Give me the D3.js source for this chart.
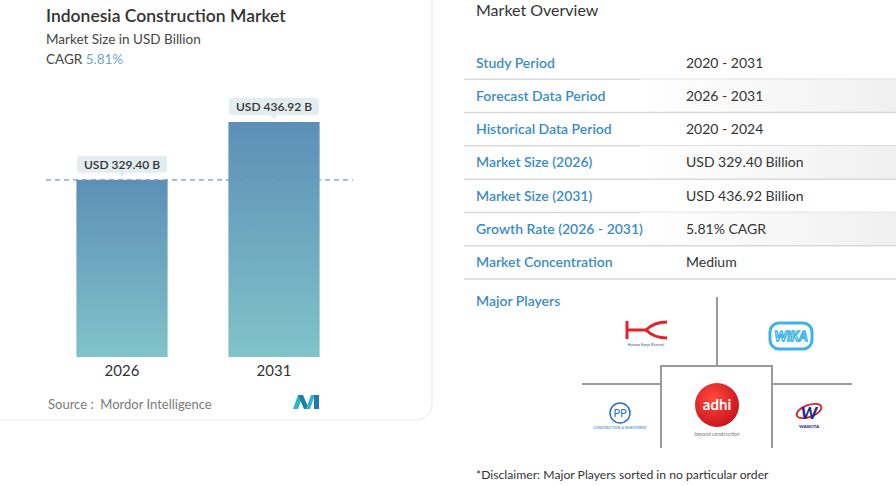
<!DOCTYPE html>
<html>
<head>
<meta charset="utf-8">
<script src="https://cdn.jsdelivr.net/npm/d3@7"></script>
<style>
  body { margin: 0; background: #fff; }
  svg { display: block; font-family: Lato, "Noto Sans", sans-serif; }
</style>
</head>
<body>
<div id="chart"></div>
<script>
// chart data
var years = ["2026", "2031"];
var marketSize = [329.40, 436.92];
var sizeLabels = ["USD 329.40 B", "USD 436.92 B"];
var cagrText = "5.81%";

// overview table
var overviewLabels = ["Study Period", "Forecast Data Period", "Historical Data Period",
  "Market Size (2026)", "Market Size (2031)", "Growth Rate (2026 - 2031)", "Market Concentration"];
var overviewValues = ["2020 - 2031", "2026 - 2031", "2020 - 2024",
  "USD 329.40 Billion", "USD 436.92 Billion", "5.81% CAGR", "Medium"];

var svgWidth = 896;
var svgHeight = 486;

var svg = d3.select("#chart")
  .append("svg")
  .attr("width", svgWidth)
  .attr("height", svgHeight);

var defs = svg.append("defs");

var barGrad = defs.append("linearGradient")
  .attr("id", "barGrad")
  .attr("x1", 0).attr("y1", 0).attr("x2", 0).attr("y2", 1);
barGrad.append("stop").attr("offset", "0%").attr("stop-color", "#5d8fb6");
barGrad.append("stop").attr("offset", "100%").attr("stop-color", "#80c3c9");

var rowGrad = defs.append("linearGradient")
  .attr("id", "rowGrad")
  .attr("x1", 0).attr("y1", 0).attr("x2", 1).attr("y2", 0);
rowGrad.append("stop").attr("offset", "0%").attr("stop-color", "#ffffff");
rowGrad.append("stop").attr("offset", "100%").attr("stop-color", "#f0f0f0");

var adhiGrad = defs.append("radialGradient")
  .attr("id", "adhiGrad")
  .attr("cx", "40%").attr("cy", "35%").attr("r", "70%");
adhiGrad.append("stop").attr("offset", "0%").attr("stop-color", "#ff4a3d");
adhiGrad.append("stop").attr("offset", "100%").attr("stop-color", "#c8101c");

// left card
svg.append("rect")
  .attr("x", -20).attr("y", -20)
  .attr("width", 452).attr("height", 440)
  .attr("rx", 16)
  .attr("fill", "#fff")
  .attr("stroke", "#ebebeb")
  .attr("stroke-width", 1.2);

// titles
svg.append("text")
  .attr("x", 46).attr("y", 22)
  .attr("font-size", 17.5)
  .attr("font-weight", 600)
  .attr("fill", "#333")
  .text("Indonesia Construction Market");

svg.append("text")
  .attr("x", 46).attr("y", 44)
  .attr("font-size", 13.5)
  .attr("fill", "#444")
  .text("Market Size in USD Billion");

var cagr = svg.append("text")
  .attr("x", 46).attr("y", 64)
  .attr("font-size", 13.5)
  .attr("fill", "#444");
cagr.append("tspan").text("CAGR ");
cagr.append("tspan").attr("fill", "#6fa6cf").text(cagrText);

// scales
var xScale = d3.scaleBand()
  .domain(years)
  .range([46, 350])
  .paddingInner(0.4)
  .paddingOuter(0.2);

var yScale = d3.scaleLinear()
  .domain([0, d3.max(marketSize)])
  .range([357, 122]);

var chartGroup = svg.append("g");

// bars
chartGroup.selectAll("rect.bar")
  .data(marketSize)
  .enter()
  .append("rect")
  .attr("class", "bar")
  .attr("x", (d, i) => xScale(years[i]))
  .attr("y", d => yScale(d))
  .attr("width", xScale.bandwidth())
  .attr("height", d => yScale(0) - yScale(d))
  .attr("fill", "url(#barGrad)");

// dashed reference line at first value
chartGroup.append("line")
  .attr("x1", 46).attr("x2", 353)
  .attr("y1", yScale(marketSize[0])).attr("y2", yScale(marketSize[0]))
  .attr("stroke", "#6f9cbf")
  .attr("stroke-width", 1.3)
  .attr("stroke-dasharray", "5,4");

// value callouts
var callouts = chartGroup.selectAll("g.callout")
  .data(marketSize)
  .enter()
  .append("g")
  .attr("class", "callout")
  .attr("transform", (d, i) => `translate(${xScale(years[i]) + xScale.bandwidth() / 2}, ${yScale(d)})`);

callouts.append("rect")
  .attr("x", -45).attr("y", -24)
  .attr("width", 90).attr("height", 17)
  .attr("rx", 3)
  .attr("fill", "#e3ecef");

callouts.append("path")
  .attr("d", "M-4,-7 L0,-3 L4,-7 Z")
  .attr("fill", "#e3ecef");

callouts.append("text")
  .attr("y", -11)
  .attr("text-anchor", "middle")
  .attr("font-size", 12)
  .attr("font-weight", 600)
  .attr("fill", "#333")
  .text((d, i) => sizeLabels[i]);

// x axis labels
var xAxis = d3.axisBottom(xScale).tickSize(0).tickPadding(8);
var xAxisGroup = chartGroup.append("g")
  .attr("transform", `translate(0, ${yScale(0)})`)
  .call(xAxis);
xAxisGroup.select(".domain").remove();
xAxisGroup.selectAll("text")
  .attr("font-family", "Lato, sans-serif")
  .attr("font-size", 15)
  .attr("fill", "#333");

// source
svg.append("text")
  .attr("x", 48).attr("y", 409)
  .attr("font-size", 13)
  .attr("fill", "#7a7a7a")
  .text("Source :\u00a0 Mordor Intelligence");

// small MI logo
var mi = svg.append("g").attr("transform", "translate(293, 395)");
mi.append("path").attr("d", "M0,14 L5,0 L10,0 L5,14 Z").attr("fill", "#2fb5c9");
mi.append("path").attr("d", "M5,0 L10,0 L16,14 L11,14 Z").attr("fill", "#1f7ea8");
mi.append("path").attr("d", "M13,14 L18,0 L22,0 L17,14 Z").attr("fill", "#2fb5c9");
mi.append("path").attr("d", "M21,0 L26,0 L26,14 L21,14 Z").attr("fill", "#1f7ea8");

// market overview
svg.append("text")
  .attr("x", 476).attr("y", 16)
  .attr("font-size", 16)
  .attr("fill", "#333")
  .text("Market Overview");

var rowScale = d3.scaleBand()
  .domain(overviewLabels)
  .range([46, 279]);

var rows = svg.selectAll("g.row")
  .data(overviewLabels)
  .enter()
  .append("g")
  .attr("class", "row")
  .attr("transform", d => `translate(0, ${rowScale(d)})`);

rows.filter((d, i) => i % 2 === 1)
  .append("rect")
  .attr("x", 640).attr("y", 0)
  .attr("width", 256).attr("height", rowScale.bandwidth())
  .attr("fill", "url(#rowGrad)");

rows.append("line")
  .attr("x1", 464).attr("x2", 896)
  .attr("y1", rowScale.bandwidth()).attr("y2", rowScale.bandwidth())
  .attr("stroke", "#d9d9d9")
  .attr("stroke-width", 1.5);

rows.append("text")
  .attr("x", 476)
  .attr("y", rowScale.bandwidth() / 2 + 5)
  .attr("font-size", 14)
  .attr("font-weight", 600)
  .attr("fill", "#3a8cc4")
  .text(d => d);

rows.append("text")
  .attr("x", 686)
  .attr("y", rowScale.bandwidth() / 2 + 5)
  .attr("font-size", 14)
  .attr("fill", "#333")
  .text((d, i) => overviewValues[i]);

// major players
svg.append("text")
  .attr("x", 476).attr("y", 306)
  .attr("font-size", 14)
  .attr("font-weight", 600)
  .attr("fill", "#3a8cc4")
  .text("Major Players");

var grid = svg.append("g")
  .attr("fill", "none")
  .attr("stroke", "#9a9a9a")
  .attr("stroke-width", 2);
grid.append("path").attr("d", "M717,297 V366");
grid.append("path").attr("d", "M661,448 V366 H772 V448");
grid.append("path").attr("d", "M582,384 H661");
grid.append("path").attr("d", "M772,384 H852");

// HK logo
var hk = svg.append("g").attr("fill", "none").attr("stroke", "#e3232b").attr("stroke-width", 3);
hk.append("path").attr("d", "M627,321 V339");
hk.append("path").attr("d", "M627,330 H648");
hk.append("path").attr("d", "M646,330 Q654,322 667,322");
hk.append("path").attr("d", "M646,330 Q654,338 667,338");
svg.append("text")
  .attr("x", 646).attr("y", 346)
  .attr("text-anchor", "middle")
  .attr("font-size", 3.5)
  .attr("fill", "#2a4a9a")
  .text("Hutama Karya (Persero)");

// WIKA logo
svg.append("rect")
  .attr("x", 770).attr("y", 323)
  .attr("width", 42).attr("height", 26)
  .attr("rx", 9)
  .attr("fill", "none")
  .attr("stroke", "#3cb4e6")
  .attr("stroke-width", 3);
svg.append("text")
  .attr("x", 791).attr("y", 341)
  .attr("text-anchor", "middle")
  .attr("font-size", 13)
  .attr("font-weight", 900)
  .attr("font-style", "italic")
  .attr("fill", "#fff")
  .attr("stroke", "#3cb4e6")
  .attr("stroke-width", 1.3)
  .text("WiKA");

// PP logo
svg.append("circle")
  .attr("cx", 620).attr("cy", 413).attr("r", 10)
  .attr("fill", "none")
  .attr("stroke", "#2a72b8")
  .attr("stroke-width", 1.5);
svg.append("text")
  .attr("x", 620).attr("y", 417)
  .attr("text-anchor", "middle")
  .attr("font-size", 11)
  .attr("fill", "#2a72b8")
  .text("PP");
svg.append("text")
  .attr("x", 620).attr("y", 429)
  .attr("text-anchor", "middle")
  .attr("font-size", 3.5)
  .attr("fill", "#2a72b8")
  .text("CONSTRUCTION & INVESTMENT");

// adhi logo
svg.append("circle")
  .attr("cx", 717).attr("cy", 405).attr("r", 22)
  .attr("fill", "url(#adhiGrad)");
svg.append("text")
  .attr("x", 717).attr("y", 410)
  .attr("text-anchor", "middle")
  .attr("font-size", 15)
  .attr("font-weight", 700)
  .attr("fill", "#fff")
  .text("adhi");
svg.append("text")
  .attr("x", 717).attr("y", 436)
  .attr("text-anchor", "middle")
  .attr("font-size", 5)
  .attr("fill", "#777")
  .text("beyond construction");

// Waskita logo
svg.append("ellipse")
  .attr("cx", 809).attr("cy", 411)
  .attr("rx", 13).attr("ry", 6)
  .attr("transform", "rotate(-20, 809, 411)")
  .attr("fill", "none")
  .attr("stroke", "#d8232a")
  .attr("stroke-width", 1.8);
svg.append("text")
  .attr("x", 809).attr("y", 419)
  .attr("text-anchor", "middle")
  .attr("font-size", 17)
  .attr("font-weight", 900)
  .attr("font-style", "italic")
  .attr("fill", "#1c2d8c")
  .text("W");
svg.append("text")
  .attr("x", 809).attr("y", 428)
  .attr("text-anchor", "middle")
  .attr("font-size", 4.5)
  .attr("font-weight", 900)
  .attr("fill", "#1c2d8c")
  .text("WASKITA");

// disclaimer
svg.append("text")
  .attr("x", 476).attr("y", 479)
  .attr("font-size", 12.2)
  .attr("fill", "#333")
  .text("*Disclaimer: Major Players sorted in no particular order");
</script>
</body>
</html>
